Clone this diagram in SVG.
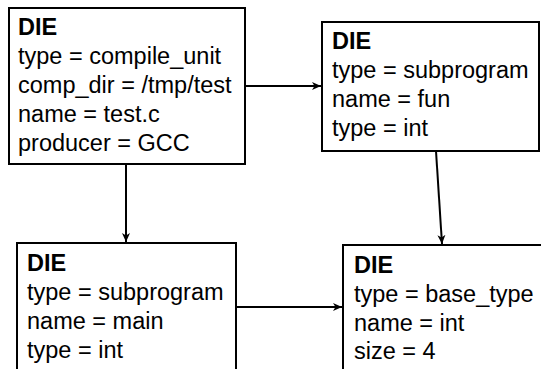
<svg xmlns="http://www.w3.org/2000/svg" width="541" height="369" viewBox="0 0 541 369">
<defs>
<marker id="ah" markerWidth="10" markerHeight="10" refX="9" refY="5" orient="auto" markerUnits="userSpaceOnUse">
<path d="M0,1 L9,5 L0,9 L2.5,5 Z" fill="#000"/>
</marker>
<style>
.box{fill:#fff;stroke:#000;stroke-width:2}
.t{font-family:"Liberation Sans",Arial,sans-serif;font-size:23.5px;fill:#000}
.h{font-weight:bold}
.c{stroke:#000;stroke-width:2;fill:none;marker-end:url(#ah)}
</style>
</defs>
<rect width="541" height="369" fill="#fff"/>
<g id="connectors">
<line class="c" x1="245" y1="86" x2="321" y2="86"/>
<line class="c" x1="126" y1="165" x2="126" y2="242"/>
<line class="c" x1="436" y1="151" x2="442" y2="244"/>
<line class="c" x1="236" y1="307" x2="342" y2="307"/>
</g>
<g id="n1">
<rect class="box" x="9" y="8" width="236" height="156"/>
<text class="t h" x="18" y="35">DIE</text>
<text class="t" x="18" y="64">type = compile_unit</text>
<text class="t" x="18" y="93">comp_dir = /tmp/test</text>
<text class="t" x="18" y="122">name = test.c</text>
<text class="t" x="18" y="151">producer = GCC</text>
</g>
<g id="n2">
<rect class="box" x="322" y="22" width="217" height="129"/>
<text class="t h" x="332" y="49">DIE</text>
<text class="t" x="332" y="78">type = subprogram</text>
<text class="t" x="332" y="107">name = fun</text>
<text class="t" x="332" y="136">type = int</text>
</g>
<g id="n3">
<rect class="box" x="17" y="243" width="219" height="140"/>
<text class="t h" x="27" y="271">DIE</text>
<text class="t" x="27" y="300">type = subprogram</text>
<text class="t" x="27" y="329">name = main</text>
<text class="t" x="27" y="358">type = int</text>
</g>
<g id="n4">
<rect class="box" x="343" y="245" width="210" height="140"/>
<text class="t h" x="354" y="273">DIE</text>
<text class="t" x="354" y="302">type = base_type</text>
<text class="t" x="354" y="331">name = int</text>
<text class="t" x="354" y="359">size = 4</text>
</g>
</svg>
